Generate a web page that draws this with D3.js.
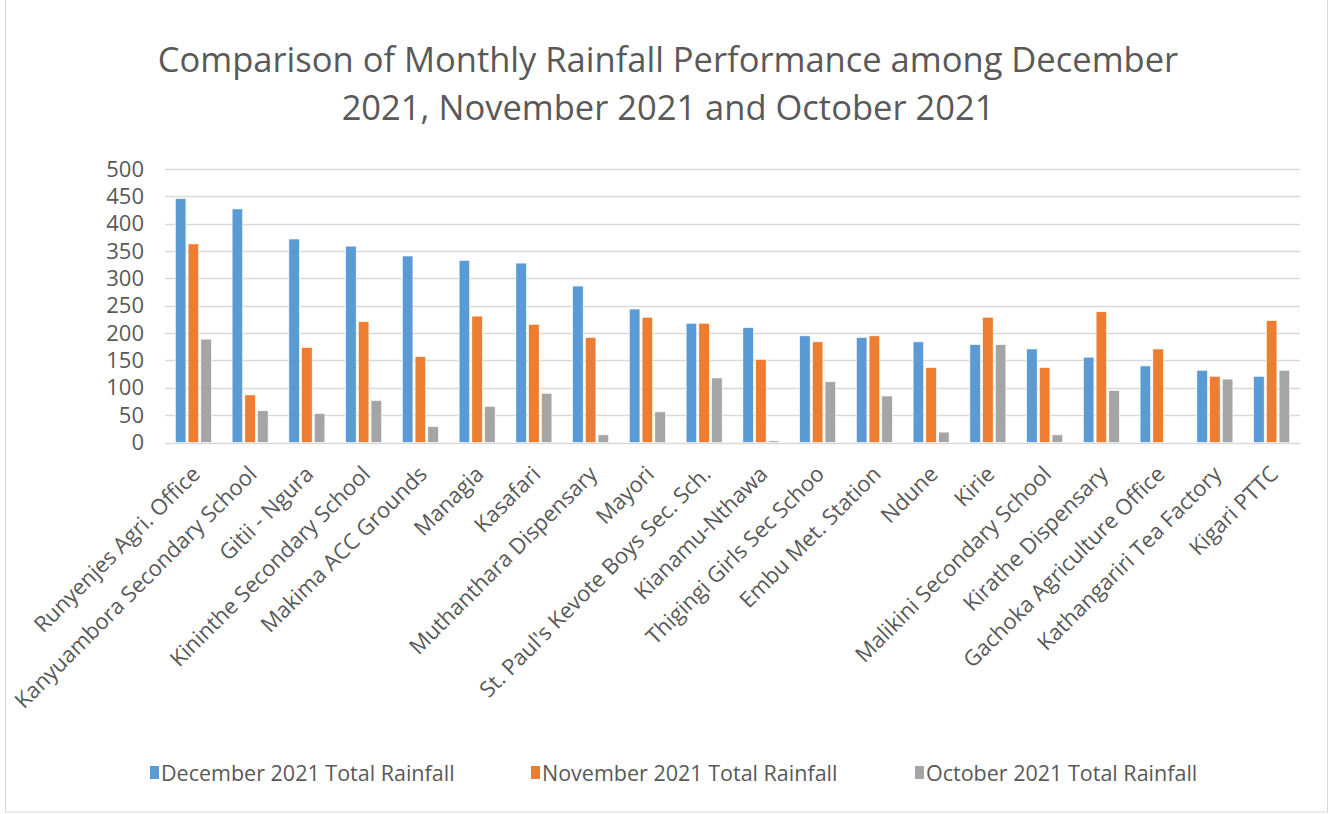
<!DOCTYPE html>
<html>
<head>
<meta charset="utf-8">
<script src="https://cdn.jsdelivr.net/npm/d3@7/dist/d3.min.js"></script>
<style>
  body { margin: 0; background: #fff; }
  text { font-family: "Open Sans", sans-serif; fill: #595959; }
</style>
</head>
<body>
<div id="chart"></div>
<script>
// stations along the x axis
var stations = ["Runyenjes Agri. Office", "Kanyuambora Secondary School", "Gitii - Ngura",
    "Kininthe Secondary School", "Makima ACC Grounds", "Managia", "Kasafari",
    "Muthanthara Dispensary", "Mayori", "St. Paul's Kevote Boys Sec. Sch.", "Kianamu-Nthawa",
    "Thigingi Girls Sec Schoo", "Embu Met. Station", "Ndune", "Kirie",
    "Malikini Secondary School", "Kirathe Dispensary", "Gachoka Agriculture Office",
    "Kathangariri Tea Factory", "Kigari PTTC"];

var seriesNames = ["December 2021 Total Rainfall", "November 2021 Total Rainfall", "October 2021 Total Rainfall"];

var december = [446, 427, 372, 359, 341, 333, 328, 286, 244, 218, 210, 195, 192, 184, 179, 171, 156, 140, 132, 121];
var november = [363, 87, 174, 221, 157, 231, 216, 192, 229, 218, 152, 184, 195, 137, 229, 137, 239, 171, 121, 223];
var october = [189, 58, 53, 77, 29, 66, 90, 14, 56, 118, 3, 111, 85, 19, 179, 14, 95, 0, 116, 132];

var yTicks = [0, 50, 100, 150, 200, 250, 300, 350, 400, 450, 500];

var colors = ["#5b9bd5", "#ed7d31", "#a5a5a5"];

var width = 1335, height = 814;

var rows = stations.map(function (s, i) {
    return { station: s, values: [december[i], november[i], october[i]] };
});

var svg = d3.select('#chart')
    .append('svg')
    .attr('width', width)
    .attr('height', height);

// outer chart frame
svg.append('rect')
    .attr('x', 5.5).attr('y', -2)
    .attr('width', 1322).attr('height', 814)
    .attr('fill', 'none')
    .attr('stroke', '#d9d9d9');

var x = d3.scaleBand()
    .domain(stations)
    .range([165, 1300]);

var xInner = d3.scaleBand()
    .domain(seriesNames)
    .range([-18, 18])
    .paddingInner(0.17);

var y = d3.scaleLinear()
    .domain([0, 500])
    .range([442.5, 169]);

// title
svg.append('text')
    .attr('x', 668).attr('y', 0)
    .attr('text-anchor', 'middle')
    .style('font-size', '34.5px')
    .selectAll('tspan')
    .data(["Comparison of Monthly Rainfall Performance among December", "2021, November 2021 and October 2021"])
    .enter().append('tspan')
    .attr('x', 668)
    .attr('y', function (d, i) { return 72 + i * 48; })
    .text(function (d) { return d; });

// gridlines
svg.append('g')
    .selectAll('line')
    .data(yTicks)
    .enter().append('line')
    .attr('x1', 165).attr('x2', 1300)
    .attr('y1', function (d) { return Math.round(y(d)) + 0.5; })
    .attr('y2', function (d) { return Math.round(y(d)) + 0.5; })
    .attr('stroke', '#d9d9d9')
    .attr('stroke-width', 1.5);

// y axis labels
var yAxis = svg.append('g')
    .attr('transform', 'translate(144,0)')
    .call(d3.axisLeft(y).tickValues(yTicks).tickSize(0).tickPadding(0));
yAxis.select('.domain').remove();
yAxis.selectAll('text')
    .style('font-size', '22px')
    .style('font-family', '"Open Sans", sans-serif')
    .attr('fill', '#595959');

// bars
var groups = svg.append('g')
    .selectAll('g')
    .data(rows)
    .enter().append('g')
    .attr('transform', function (d) {
        return 'translate(' + (x(d.station) + x.bandwidth() / 2) + ',0)';
    });

groups.selectAll('rect')
    .data(function (d) {
        return d.values.map(function (v, i) { return { name: seriesNames[i], value: v, i: i }; });
    })
    .enter().append('rect')
    .attr('x', function (d) { return xInner(d.name); })
    .attr('width', xInner.bandwidth())
    .attr('y', function (d) { return y(d.value); })
    .attr('height', function (d) { return y(0) - y(d.value); })
    .attr('fill', function (d) { return colors[d.i]; })
    .attr('stroke', '#fff')
    .attr('stroke-width', 0.6);

// x axis labels, rotated
var xAxis = svg.append('g')
    .attr('transform', 'translate(0,' + y(0) + ')')
    .call(d3.axisBottom(x).tickSize(0).tickPadding(0));
xAxis.select('.domain').remove();
xAxis.selectAll('text')
    .style('font-size', '22px')
    .style('font-family', '"Open Sans", sans-serif')
    .attr('fill', '#595959')
    .attr('text-anchor', 'end')
    .attr('dy', null)
    .attr('y', 0)
    .attr('transform', 'translate(8,33) rotate(-45)');

// legend
var legendX = [150, 531, 915];
var legend = svg.append('g')
    .selectAll('g')
    .data(seriesNames)
    .enter().append('g')
    .attr('transform', function (d, i) { return 'translate(' + legendX[i] + ',773)'; });

legend.append('rect')
    .attr('x', 0).attr('y', -7)
    .attr('width', 9).attr('height', 13)
    .attr('fill', function (d, i) { return colors[i]; });

legend.append('text')
    .attr('x', 11).attr('y', 0)
    .attr('dy', '0.35em')
    .style('font-size', '21.5px')
    .text(function (d) { return d; });
</script>
</body>
</html>
